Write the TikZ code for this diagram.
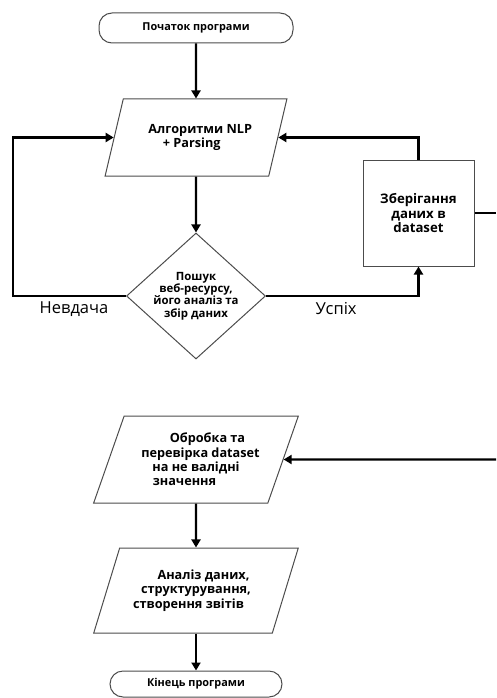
\documentclass[tikz,border=0pt]{standalone}
\usepackage{fontspec}
\setmainfont{Open Sans}
\usetikzlibrary{shapes.geometric,arrows.meta,positioning}

\tikzset{
  terminal/.style={draw=black!70, line width=1pt, rectangle, rounded corners=13pt, inner sep=1pt,
    font=\bfseries\fontsize{10.9}{12}\selectfont},
  io/.style={draw=black!70, line width=1pt, trapezium, trapezium left angle=63.5, trapezium right angle=116.5,
    trapezium stretches=true, inner sep=1pt, align=center, font=\bfseries\fontsize{12.7}{14.4}\selectfont},
  decision/.style={draw=black!70, line width=1pt, diamond, inner sep=-6pt, minimum width=139pt, minimum height=126pt,
    align=center, font=\bfseries\fontsize{11.4}{12.3}\selectfont},
  process/.style={draw=black!70, line width=1pt, rectangle, minimum width=111pt, minimum height=106pt, inner sep=1pt,
    align=center, font=\bfseries\fontsize{13.2}{14.2}\selectfont},
  arrow/.style={line width=2.2pt, -{Triangle[width=9pt,length=8pt]}},
  link/.style={line width=2.2pt},
  edgetext/.style={font=\fontsize{16.5}{18}\selectfont, inner sep=1pt}
}

\begin{document}
\begin{tikzpicture}[x=1pt, y=-1pt]
    \useasboundingbox (0,0) rectangle (496,698);

    % Вузли
    \node (start) [terminal, minimum width=194pt, minimum height=30pt] at (196,28) {Початок програми};

    \node (nlp) [io, below of=start, node distance=109.5pt, minimum width=182pt, minimum height=77pt]
    {\hspace*{8.5pt}Алгоритми NLP\\ + Parsing\hspace*{8.5pt}};

    \node (search) [decision, below of=nlp, node distance=158.5pt]
    {Пошук\\ веб-ресурсу,\\ його аналіз та\\ збір даних};

    \node (store) [process, right of=nlp, node distance=222.5pt, yshift=-75.5pt]
    {Зберігання\\ даних в\\ dataset};

    \node (clean) [io, below of=search, node distance=163.5pt, minimum width=205pt, minimum height=87pt]
    {\hspace*{23pt}Обробка та\\ \hspace*{9pt}перевірка dataset\\ на не валідні\hspace*{7pt}\\ значення\hspace*{23pt}};

    \node (report) [io, below of=clean, node distance=131pt, minimum width=205pt, minimum height=85pt]
    {\hspace*{15pt}Аналіз даних,\\ структурування,\\ створення звітів\hspace*{15pt}};

    \node (end) [terminal, below of=report, node distance=93.5pt, minimum width=172pt, minimum height=26pt]
    {Кінець програми};

    % Вихід за край аркуша
    \coordinate (outA) at (496,213);
    \coordinate (outB) at (496,459.5);

    % Стрілки
    \draw[arrow] (start) -- (nlp);
    \draw[arrow] (nlp) -- (search);
    \draw[arrow] (search.west) -- node (fail) [edgetext, below=4pt, pos=0.46] {Невдача} ++(-113,0) |- (nlp.west);
    \draw[arrow] (search.east) -| node (ok) [edgetext, below=4pt, pos=0.23] {Успіх} (store.south);
    \draw[arrow] (store.north) |- (nlp.east);
    \draw[link] (store.east) -- (outA);
    \draw[arrow] (outB) -- (clean.east);
    \draw[arrow] (clean) -- (report);
    \draw[arrow] (report) -- (end);
\end{tikzpicture}
\end{document}
